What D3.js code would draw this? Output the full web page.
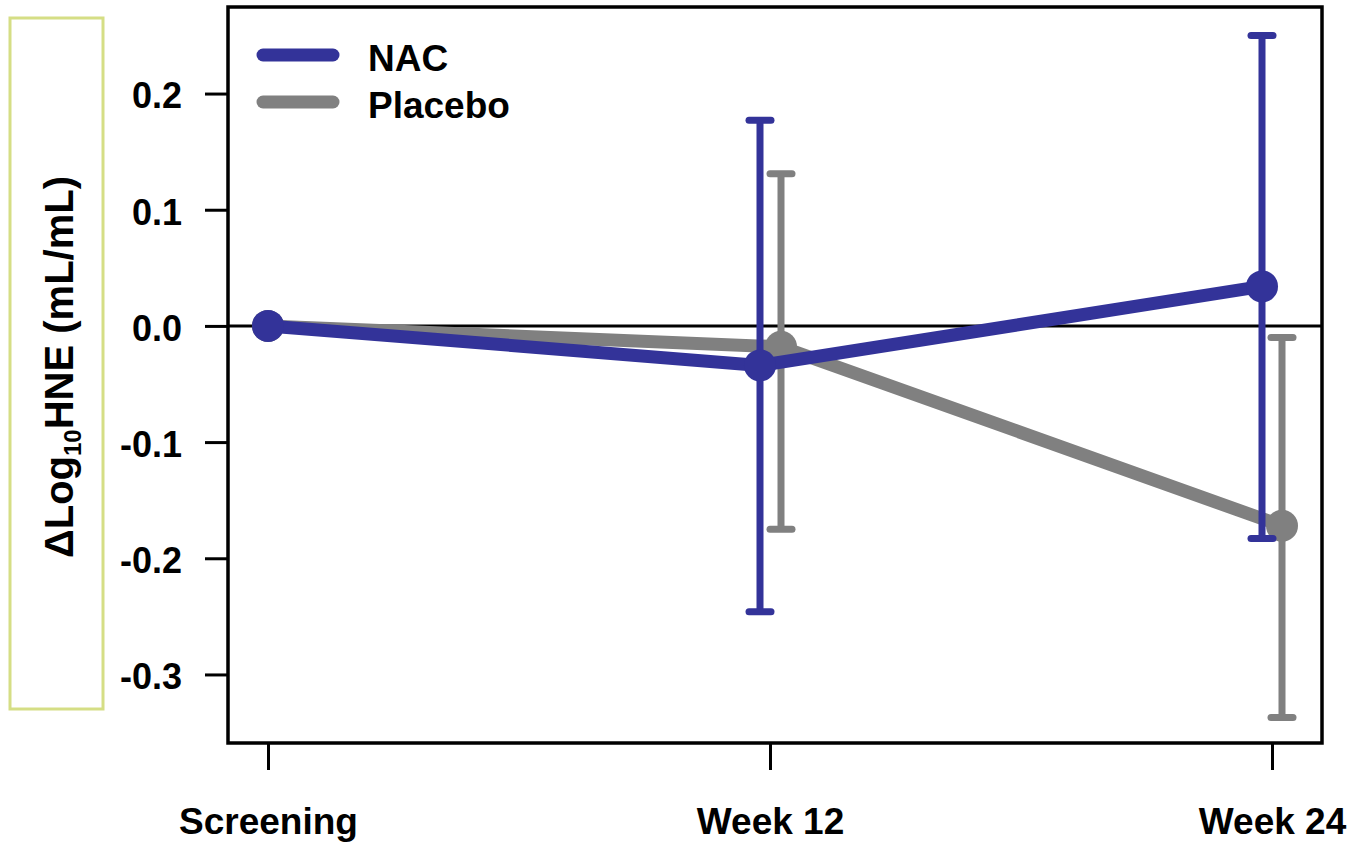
<!DOCTYPE html>
<html>
<head>
<meta charset="utf-8">
<script src="https://cdn.jsdelivr.net/npm/d3@7"></script>
<style>
  html, body { margin: 0; padding: 0; background: #fff; }
  svg text { font-family: "Liberation Sans", Arial, Helvetica, sans-serif; font-weight: bold; }
</style>
</head>
<body>
<svg id="chart" width="1352" height="842"></svg>
<script>
// Time points
const categories = ["Screening", "Week 12", "Week 24"];

// Change in log10 HNE, mean with lower / upper error limits
const nacMean  = [0, -0.034, 0.034];
const nacLower = [0, -0.246, -0.183];
const nacUpper = [0, 0.177, 0.250];

const placeboMean  = [0, -0.018, -0.172];
const placeboLower = [0, -0.175, -0.337];
const placeboUpper = [0, 0.131, -0.010];

const yTicks = [0.2, 0.1, 0.0, -0.1, -0.2, -0.3];
const yTickLabels = ["0.2", "0.1", "0.0", "-0.1", "-0.2", "-0.3"];
const seriesNames = ["NAC", "Placebo"];
const seriesColors = ["#333399", "#808080"];

const svg = d3.select("#chart");

const frame = { left: 228, right: 1322, top: 7, bottom: 743 };

const x = d3.scalePoint().domain(categories).range([268, 1272]);
const y = d3.scaleLinear().domain([-0.359, 0.2745]).range([frame.bottom, frame.top]);

// Y-axis label box
svg.append("rect")
  .attr("x", 10).attr("y", 18).attr("width", 93).attr("height", 691)
  .attr("fill", "none").attr("stroke", "#d5de85").attr("stroke-width", 3);

const yLabel = svg.append("text")
  .attr("transform", "translate(73,367) rotate(-90)")
  .attr("text-anchor", "middle")
  .attr("font-size", 40)
  .attr("fill", "#000");
yLabel.append("tspan").text("\u0394Log");
yLabel.append("tspan").text("10").attr("font-size", 24).attr("dy", 8);
yLabel.append("tspan").text("HNE (mL/mL)").attr("dy", -8);

// Y axis
const yAxis = d3.axisLeft(y).tickValues(yTicks).tickSize(23).tickPadding(23)
  .tickFormat((d, i) => yTickLabels[i]);
const gy = svg.append("g").attr("transform", `translate(${frame.left},0)`).call(yAxis);
gy.select(".domain").remove();
gy.selectAll(".tick line").attr("stroke", "#000").attr("stroke-width", 3);
gy.selectAll(".tick text").attr("font-size", 36).attr("fill", "#000").attr("dy", "0.4em");

// X axis
const xAxis = d3.axisBottom(x).tickSize(27).tickPadding(36);
const gx = svg.append("g").attr("transform", `translate(0,${frame.bottom})`).call(xAxis);
gx.select(".domain").remove();
gx.selectAll(".tick line").attr("stroke", "#000").attr("stroke-width", 3);
gx.selectAll(".tick text").attr("font-size", 37).attr("fill", "#000").attr("dy", "0.75em");

// Frame
svg.append("rect")
  .attr("x", frame.left).attr("y", frame.top)
  .attr("width", frame.right - frame.left).attr("height", frame.bottom - frame.top)
  .attr("fill", "none").attr("stroke", "#000").attr("stroke-width", 3.5);

// Zero reference line
svg.append("line")
  .attr("x1", frame.left).attr("x2", frame.right)
  .attr("y1", y(0)).attr("y2", y(0))
  .attr("stroke", "#000").attr("stroke-width", 3);

// Series (placebo drawn first so NAC sits on top)
const series = [
  { name: "Placebo", color: seriesColors[1], mean: placeboMean, lower: placeboLower, upper: placeboUpper, dodge: [0, 11, 10] },
  { name: "NAC", color: seriesColors[0], mean: nacMean, lower: nacLower, upper: nacUpper, dodge: [0, -10, -10] }
];

series.forEach(s => {
  const pts = categories.map((c, i) => ({
    x: x(c) + s.dodge[i], mean: s.mean[i], lo: s.lower[i], hi: s.upper[i]
  }));
  const g = svg.append("g");

  g.append("path")
    .datum(pts)
    .attr("d", d3.line().x(d => d.x).y(d => y(d.mean)))
    .attr("fill", "none").attr("stroke", s.color).attr("stroke-width", 13)
    .attr("stroke-linejoin", "round");

  const eb = pts.filter(d => d.hi !== d.lo);
  g.selectAll(".bar").data(eb).join("line")
    .attr("x1", d => d.x).attr("x2", d => d.x)
    .attr("y1", d => y(d.hi)).attr("y2", d => y(d.lo))
    .attr("stroke", s.color).attr("stroke-width", 7);
  ["hi", "lo"].forEach(k => {
    g.selectAll(".cap-" + k).data(eb).join("line")
      .attr("x1", d => d.x - 11).attr("x2", d => d.x + 11)
      .attr("y1", d => y(d[k])).attr("y2", d => y(d[k]))
      .attr("stroke", s.color).attr("stroke-width", 7).attr("stroke-linecap", "round");
  });

  g.selectAll("circle").data(pts).join("circle")
    .attr("cx", d => d.x).attr("cy", d => y(d.mean)).attr("r", 16)
    .attr("fill", s.color);
});

// Legend
const legend = svg.append("g");
seriesNames.forEach((name, i) => {
  const ly = 55 + i * 47;
  legend.append("line")
    .attr("x1", 263).attr("x2", 333).attr("y1", ly).attr("y2", ly)
    .attr("stroke", seriesColors[i]).attr("stroke-width", 13).attr("stroke-linecap", "round");
  legend.append("text")
    .attr("x", 368).attr("y", ly + 16)
    .attr("font-size", 37).attr("fill", "#000")
    .text(name);
});
</script>
</body>
</html>
